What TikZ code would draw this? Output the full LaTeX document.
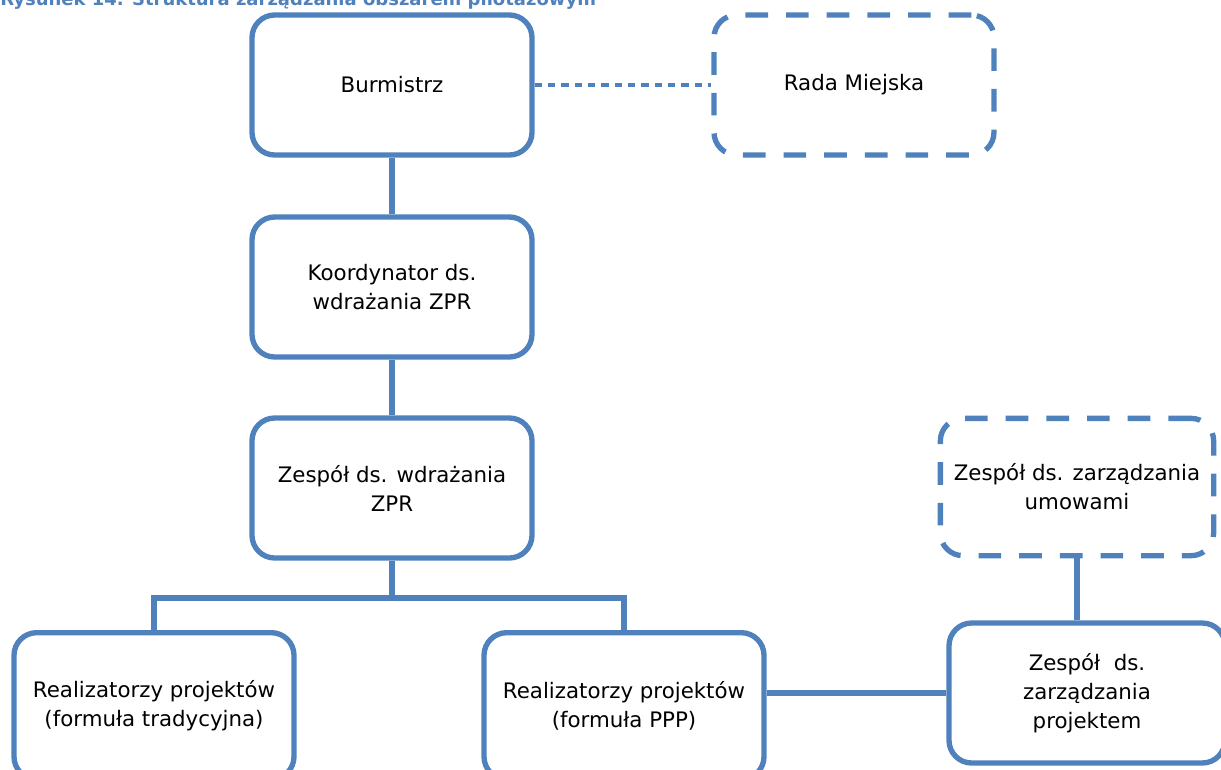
\documentclass[tikz,border=0pt]{standalone}
\usepackage{fontspec}
\setmainfont{DejaVu Sans}
\definecolor{lineblue}{HTML}{4F81BD}
\definecolor{titleblue}{HTML}{4F81BD}
\begin{document}
\begin{tikzpicture}[x=0.75pt,y=-0.75pt,
  box/.style={draw=lineblue, line width=4pt, rounded corners=17pt, minimum width=210pt, minimum height=105pt, align=center, font=\fontsize{16}{21.75}\selectfont, inner sep=0pt},
  dbox/.style={box, dash pattern=on 17pt off 13.5pt},
  link/.style={draw=lineblue, line width=4pt},
  dlink/.style={draw=lineblue, line width=2.4pt, dash pattern=on 5.5pt off 4.5pt}]
\useasboundingbox (0,0) rectangle (1221,769);
\clip (0,0) rectangle (1221,769);
\node[anchor=base west, font=\fontsize{13.5}{16}\selectfont\bfseries, text=titleblue, inner sep=0pt] (title) at (0,5) {Rysunek 14. Struktura zarządzania obszarem pilotażowym};
\node[box] (bur) at (392,85) {Burmistrz};
\node[dbox] (rada) at (854,85) {Rada Miejska};
\node[box] (koord) at (392,287) {Koordynator ds.\\wdrażania ZPR};
\node[box] (zesp) at (392,488) {Zespół ds. wdrażania\\ZPR};
\node[box, minimum height=110pt] (rtrad) at (154,706) {Realizatorzy projektów\\(formuła tradycyjna)};
\node[box, minimum height=110pt] (rppp) at (624,706) {Realizatorzy projektów\\(formuła PPP)};
\node[box, minimum width=207pt] (proj) at (1087,693) {Zespół~ ds.\\zarządzania\\projektem};
\node[dbox, minimum width=205pt, minimum height=103pt] (umow) at (1077,487) {Zespół ds. zarządzania\\umowami};
\coordinate (j) at (392,598);
\draw[link] (bur) -- (koord);
\draw[link] (koord) -- (zesp);
\draw[link] (zesp.south) -- (zesp.south |- j);
\draw[link] (rtrad.north) |- (zesp.south |- j) -| (rppp.north);
\draw[link] (rppp.east |- proj.west) -- (proj.west);
\draw[link] (umow.south) -- (umow.south |- proj.north);
\draw[dlink] (bur) -- (rada);
\end{tikzpicture}
\end{document}
